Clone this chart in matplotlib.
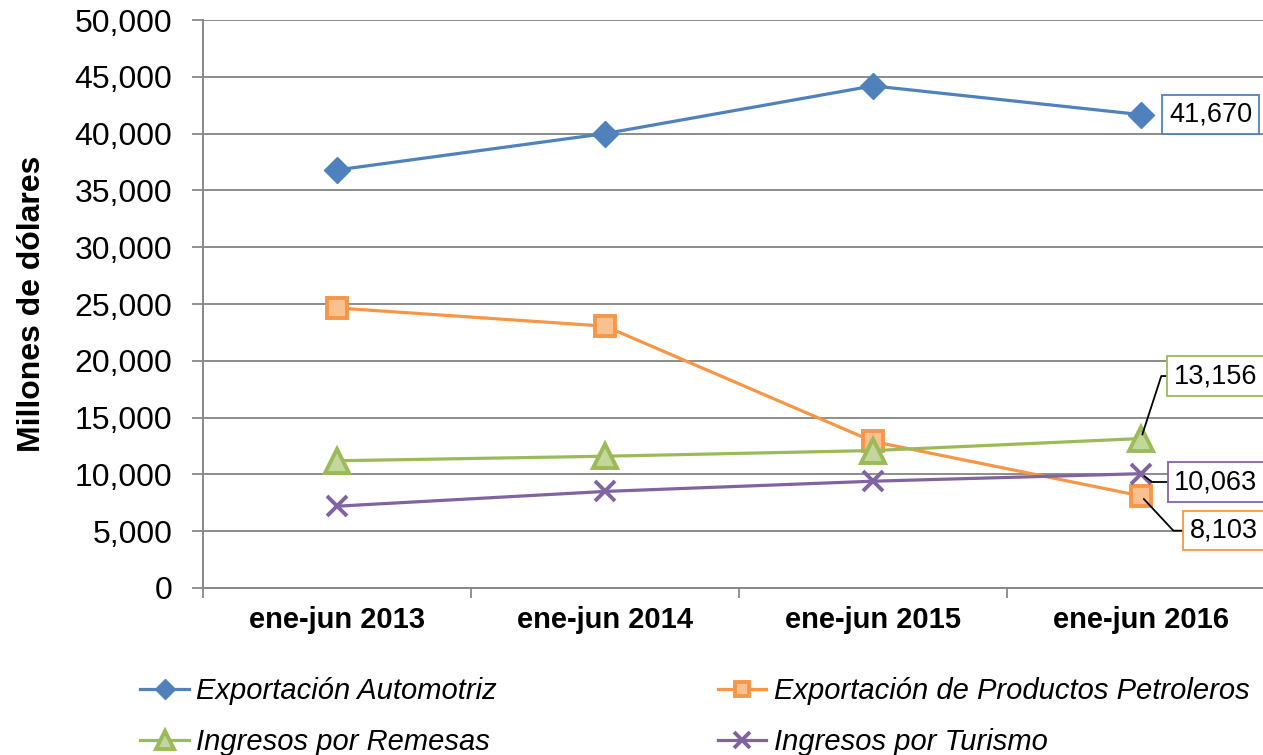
import numpy as np
import matplotlib
matplotlib.use("Agg")
import matplotlib.pyplot as plt
from matplotlib.ticker import FuncFormatter, FixedLocator

plt.rcParams['font.family'] = ['Liberation Sans', 'DejaVu Sans']

# datos (millones de dolares)
periodos = ['ene-jun 2013', 'ene-jun 2014', 'ene-jun 2015', 'ene-jun 2016']
automotriz = [36800, 40000, 44200, 41670]
petroleros = [24650, 23050, 12900, 8103]
remesas = [11200, 11600, 12100, 13156]
turismo = [7200, 8500, 9400, 10063]

nombres = ['Exportación Automotriz', 'Exportación de Productos Petroleros',
           'Ingresos por Remesas', 'Ingresos por Turismo']

azul = '#4F81BD'
naranja = '#F79646'
verde = '#9BBB59'
morado = '#8064A2'

fig = plt.figure(figsize=(12.63, 7.55), dpi=100)
ax = fig.add_axes([0.1607, 0.2212, 0.8488, 0.7523])

x = np.arange(1, len(periodos) + 1)

l1, = ax.plot(x, automotriz, color=azul, lw=2.3, marker='D', ms=13,
              mfc=azul, mec=azul, zorder=5)
l2, = ax.plot(x, petroleros, color=naranja, lw=2.3, marker='s', ms=14,
              mfc='#FAC090', mec=naranja, mew=2.8, zorder=5)
l3, = ax.plot(x, remesas, color=verde, lw=2.3, marker='^', ms=17,
              mfc='#C3D69B', mec=verde, mew=2.8, zorder=5)
l4, = ax.plot(x, turismo, color=morado, lw=2.3, marker='x', ms=15,
              mec=morado, mew=2.8, zorder=5)

ax.set_xlim(0.5, len(periodos) + 0.5)
ax.set_ylim(0, 50000)
ax.set_yticks(np.arange(0, 50001, 5000))
ax.yaxis.set_major_formatter(FuncFormatter(lambda v, p: '{:,.0f}'.format(v)))
ax.set_xticks(x)
ax.set_xticklabels(periodos, fontsize=21, fontweight='bold')
ax.xaxis.set_minor_locator(FixedLocator(np.arange(0.5, len(periodos) + 0.6, 1)))
ax.tick_params(axis='x', which='major', length=0, pad=13)
ax.tick_params(axis='x', which='minor', length=7, color='#888888', width=1.3)
ax.tick_params(axis='y', length=8, color='#888888', width=1.3, labelsize=23, pad=14)

ax.grid(axis='y', color='#8C8C8C', lw=1.4)
ax.set_axisbelow(True)
for s in ['top', 'right']:
    ax.spines[s].set_visible(False)
for s in ['left', 'bottom']:
    ax.spines[s].set_color('#888888')
    ax.spines[s].set_linewidth(1.4)

ax.set_ylabel('Millones de dólares', fontsize=23, fontweight='bold', labelpad=20)

# etiquetas del ultimo periodo
etiquetas = [
    (automotriz, azul, (50, 0), None),
    (remesas, verde, (54, 45), 72),
    (turismo, morado, (54, -6), -37),
    (petroleros, naranja, (60, -25), -47),
]
for serie, col, off, ang in etiquetas:
    props = None
    if ang is not None:
        props = dict(arrowstyle='-', color='black', lw=1.3,
                     connectionstyle='angle,angleA=0,angleB=%d,rad=0' % ang,
                     shrinkA=0, shrinkB=3)
    ax.annotate('{:,}'.format(serie[-1]), xy=(x[-1], serie[-1]),
                xytext=off, textcoords='offset points',
                ha='center', va='center', fontsize=19.5,
                bbox=dict(boxstyle='square,pad=0.25', fc='white', ec=col, lw=1.3),
                arrowprops=props, annotation_clip=False, zorder=6)

fig.legend([l1, l3, l2, l4], [nombres[0], nombres[2], nombres[1], nombres[3]],
           loc='center left', bbox_to_anchor=(0.102, 0.051), borderaxespad=0,
           ncol=2, frameon=False, prop=dict(size=21, style='italic'),
           handlelength=1.65, columnspacing=7.6, labelspacing=0.79,
           handletextpad=0.25, markerscale=0.75)

fig.savefig('out.png', dpi=100)
